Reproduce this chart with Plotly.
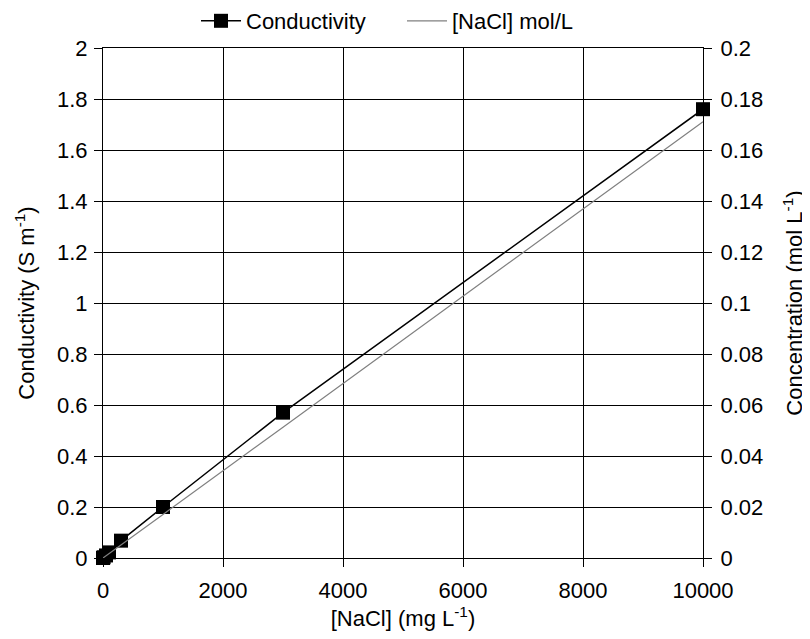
import plotly.graph_objects as go

nacl_mg = [0, 10, 50, 100, 300, 1000, 3000, 10000]
conductivity = [0.0, 0.003, 0.01, 0.022, 0.068, 0.20, 0.57, 1.76]
molar = [0.0, 0.00017, 0.00086, 0.0017, 0.0051, 0.0171, 0.0513, 0.1711]

x_ticks = [0, 2000, 4000, 6000, 8000, 10000]
y_ticks = [0, 0.2, 0.4, 0.6, 0.8, 1, 1.2, 1.4, 1.6, 1.8, 2]
y2_ticks = [0, 0.02, 0.04, 0.06, 0.08, 0.1, 0.12, 0.14, 0.16, 0.18, 0.2]

font = dict(family="Liberation Sans, Arial, sans-serif", size=22, color="black")

fig = go.Figure()
fig.add_trace(go.Scatter(x=nacl_mg, y=conductivity, name="Conductivity", mode="lines+markers",
                         line=dict(color="black", width=1.5), cliponaxis=False,
                         marker=dict(symbol="square", size=14, color="black")))
fig.add_trace(go.Scatter(x=nacl_mg, y=molar, name="[NaCl] mol/L", mode="lines",
                         line=dict(color="#808080", width=1.2), yaxis="y2"))

fig.update_layout(
    width=802, height=623,
    margin=dict(l=95, r=107, t=40, b=73, pad=0, autoexpand=False),
    paper_bgcolor="white", plot_bgcolor="white",
    font=font,
    showlegend=True,
    legend=dict(orientation="h", x=394 / 802, xanchor="center", xref="container",
                y=1.0 - 13 / 623, yanchor="middle", yref="container",
                font=font, bgcolor="rgba(0,0,0,0)", itemwidth=40, entrywidth=151),
    xaxis=dict(range=[0, 10000], tickvals=x_ticks, ticktext=[str(v) for v in x_ticks],
               showgrid=True, gridcolor="black", gridwidth=1, automargin=False,
               showline=True, linecolor="black", linewidth=1, mirror=True,
               ticks="outside", ticklen=8, tickcolor="black", zeroline=False,
               ticklabelstandoff=5,
               title=dict(text="[NaCl] (mg L<sup>-1</sup>)", font=font, standoff=9)),
    yaxis=dict(range=[0, 2], tickvals=y_ticks, ticktext=[f"{v:g}" for v in y_ticks],
               showgrid=True, gridcolor="black", gridwidth=1, automargin=False,
               showline=True, linecolor="black", linewidth=1,
               ticks="outside", ticklen=8, tickcolor="black", zeroline=False,
               ticklabelstandoff=2,
               title=dict(text="Conductivity (S m<sup>-1</sup>)", font=font, standoff=16)),
    yaxis2=dict(range=[0, 0.2], overlaying="y", side="right", automargin=False,
                tickvals=y2_ticks, ticktext=[f"{v:g}" for v in y2_ticks],
                showgrid=False, showline=True, linecolor="black", linewidth=1,
                ticks="outside", ticklen=8, tickcolor="black", zeroline=False,
                ticklabelstandoff=4,
                title=dict(text="Concentration (mol L<sup>-1</sup>)", font=font, standoff=24)),
)

fig.write_html("out.html")
